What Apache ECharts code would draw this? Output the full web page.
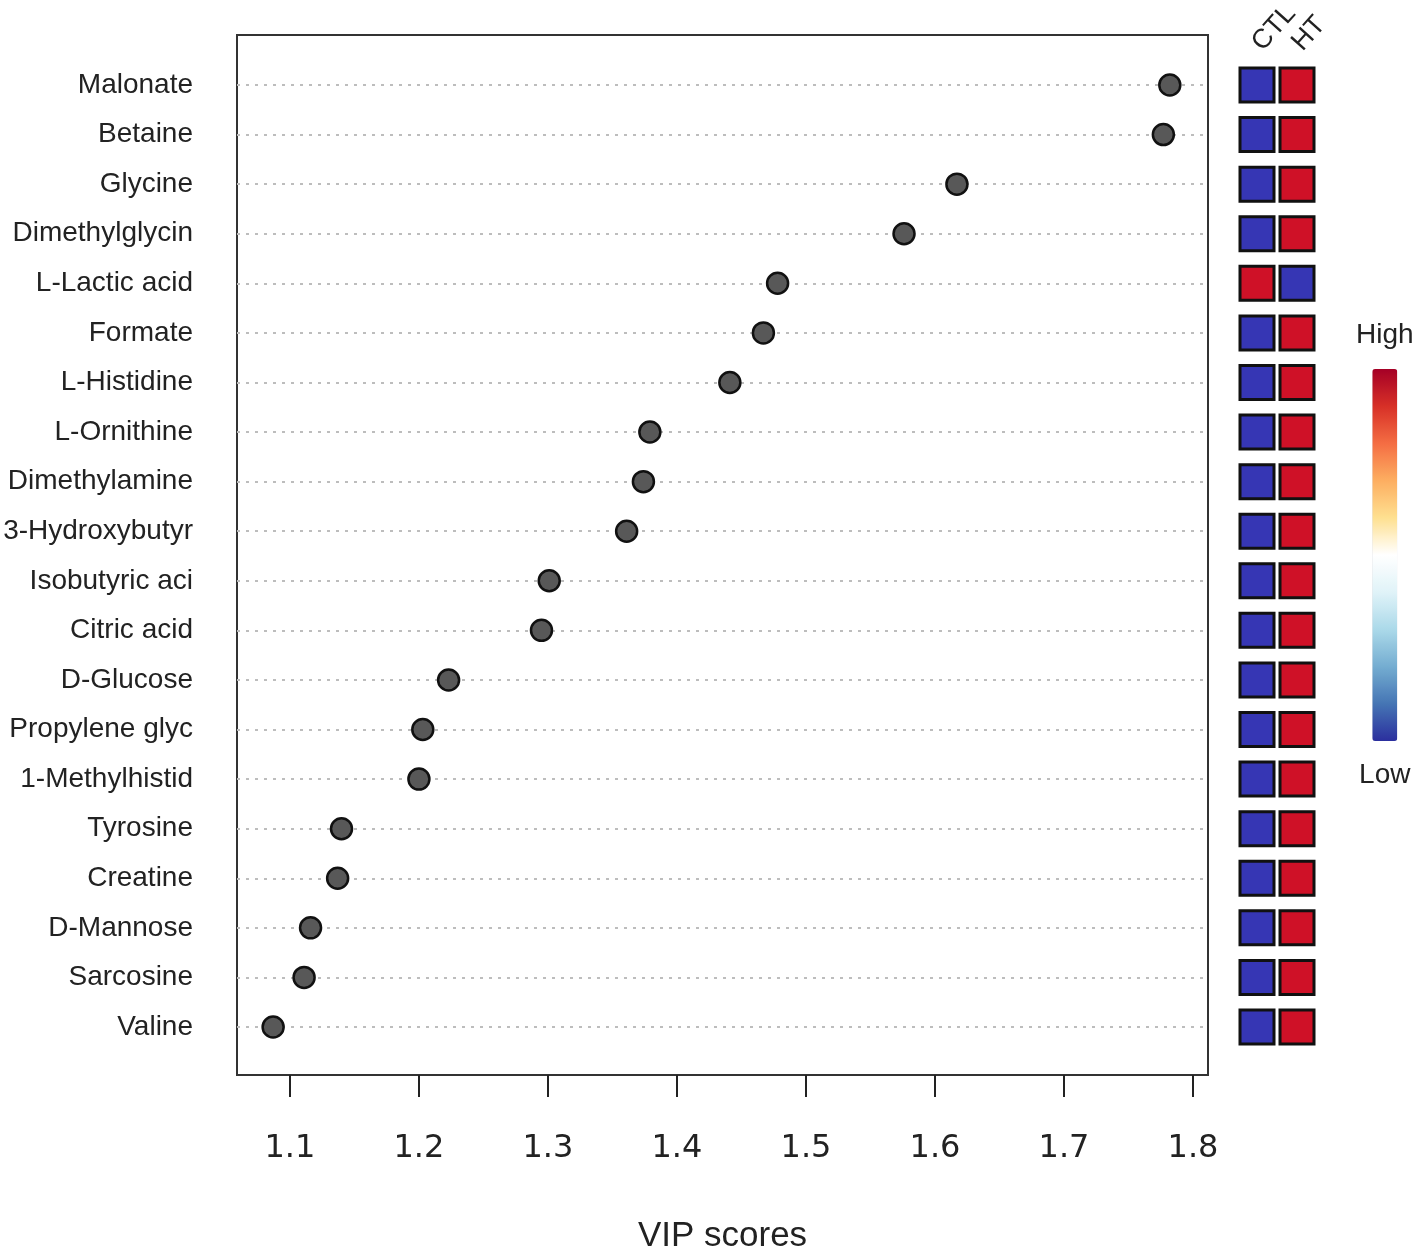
<!DOCTYPE html>
<html>
<head>
<meta charset="utf-8">
<script src="https://cdn.jsdelivr.net/npm/echarts@6.0.0/dist/echarts.min.js"></script>
<style>
    html, body { margin: 0; padding: 0; background: #fff; }
    #main { width: 1417px; height: 1259px; }
</style>
</head>
<body>
<div id="main"></div>
<script>
    // 代谢物名称（从上到下）
    var metabolites = ['Malonate', 'Betaine', 'Glycine', 'Dimethylglycin', 'L-Lactic acid', 'Formate',
        'L-Histidine', 'L-Ornithine', 'Dimethylamine', '3-Hydroxybutyr', 'Isobutyric aci', 'Citric acid',
        'D-Glucose', 'Propylene glyc', '1-Methylhistid', 'Tyrosine', 'Creatine', 'D-Mannose', 'Sarcosine', 'Valine'];
    // VIP 分数
    var vipScores = [1.782, 1.777, 1.617, 1.576, 1.478, 1.467, 1.441, 1.379, 1.374, 1.361,
        1.301, 1.295, 1.223, 1.203, 1.200, 1.140, 1.137, 1.116, 1.111, 1.087];
    // 组别与高低 (1 = High, 0 = Low)
    var groups = ['CTL', 'HT'];
    var ctlLevel = [0, 0, 0, 0, 1, 0, 0, 0, 0, 0, 0, 0, 0, 0, 0, 0, 0, 0, 0, 0];
    var htLevel = [1, 1, 1, 1, 0, 1, 1, 1, 1, 1, 1, 1, 1, 1, 1, 1, 1, 1, 1, 1];
    var xTicks = [1.1, 1.2, 1.3, 1.4, 1.5, 1.6, 1.7, 1.8];

    var dotData = vipScores.map(function (v, i) { return [v, metabolites[i]]; });
    var cellData = [];
    metabolites.forEach(function (name, i) {
        cellData.push([groups[0], name, ctlLevel[i]]);
        cellData.push([groups[1], name, htLevel[i]]);
    });

    var myChart = echarts.init(document.getElementById('main'));
    var font = 'Liberation Sans, Arial, sans-serif';

    var option = {
        backgroundColor: '#fff',
        animation: false,
        grid: [
            // 外框
            { left: 237, top: 35, width: 971, height: 1040, show: true, borderColor: '#333', borderWidth: 2, backgroundColor: 'transparent', outerBoundsMode: 'none' },
            // 点图
            { left: 237, top: 85, width: 971, height: 942, outerBoundsMode: 'none' },
            // 右侧方块
            { left: 1237, top: 85, width: 80, height: 942, outerBoundsMode: 'none' }
        ],
        xAxis: [
            { gridIndex: 0, type: 'value', show: false, min: 0, max: 1 },
            {
                gridIndex: 1, type: 'value', min: 1.059, max: 1.8116, offset: 48,
                name: 'VIP scores', nameLocation: 'middle', nameGap: 144,
                nameTextStyle: { fontFamily: font, fontSize: 35, color: '#222' },
                axisLine: { show: false },
                axisTick: { show: true, customValues: xTicks, length: 22, lineStyle: { color: '#222', width: 2 } },
                axisLabel: {
                    customValues: xTicks, margin: 58, fontSize: 32, color: '#222', fontFamily: 'DejaVu Sans',
                    formatter: function (v) { return v.toFixed(1); }
                },
                splitLine: { show: false }
            },
            {
                gridIndex: 2, type: 'category', data: groups, position: 'top',
                axisLine: { show: false }, axisTick: { show: false },
                axisLabel: { rotate: -48, interval: 0, margin: 38, fontSize: 27, color: '#222', fontFamily: font }
            }
        ],
        yAxis: [
            { gridIndex: 0, type: 'value', show: false, min: 0, max: 1 },
            {
                gridIndex: 1, type: 'category', data: metabolites, inverse: true, boundaryGap: false,
                axisLine: { show: false }, axisTick: { show: false },
                axisLabel: { margin: 44, fontSize: 28, color: '#222', fontFamily: font },
                splitLine: { show: true, lineStyle: { type: [3, 6], color: '#bdbdbd', width: 2 } }
            },
            {
                gridIndex: 2, type: 'category', data: metabolites, inverse: true, boundaryGap: false,
                show: false
            }
        ],
        visualMap: {
            type: 'continuous', min: 0, max: 1, seriesIndex: [], calculable: false,
            orient: 'vertical', left: 1356, top: 321, padding: 0, itemWidth: 25, itemHeight: 372,
            text: ['High', 'Low'], textGap: 20,
            textStyle: { fontSize: 28, color: '#222', fontFamily: font },
            inRange: { color: ['#2b2f9e', '#4575b4', '#74add1', '#abd9e9', '#e0f3f8', '#ffffff', '#fee090', '#fdae61', '#f46d43', '#d73027', '#a50026'] }
        },
        series: [
            {
                type: 'scatter', xAxisIndex: 1, yAxisIndex: 1, data: dotData,
                symbolSize: 21,
                itemStyle: { color: '#585858', borderColor: '#111', borderWidth: 2.5, opacity: 1 }
            },
            {
                type: 'scatter', xAxisIndex: 2, yAxisIndex: 2, data: cellData,
                symbol: 'rect', symbolSize: [34, 34],
                itemStyle: {
                    color: function (p) { return p.value[2] === 1 ? '#cf1127' : '#3636b4'; },
                    borderColor: '#111', borderWidth: 3, opacity: 1
                }
            }
        ]
    };
    myChart.setOption(option);
</script>
</body>
</html>
